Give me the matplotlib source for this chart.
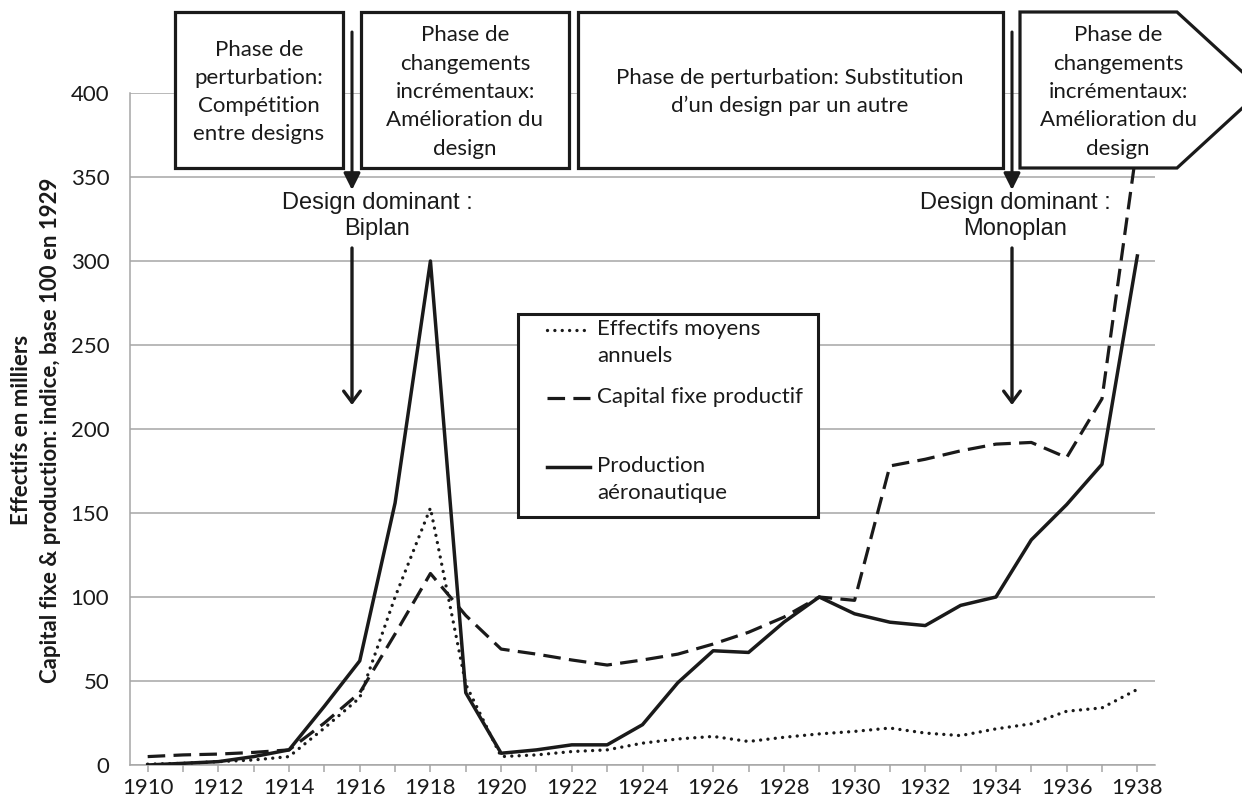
import matplotlib.pyplot as plt
from matplotlib.patches import Rectangle, Polygon, FancyArrowPatch
from matplotlib.lines import Line2D

# ------------------------------------------------------------------------------
# Data (1910 - 1938)
# ------------------------------------------------------------------------------
years = list(range(1910, 1939))

effectifs = [0.5, 1, 2, 3, 5, 22, 40, 100, 153, 48, 5, 6, 8, 9, 13,
             15.5, 17, 14, 16.5, 18.5, 20, 22, 19, 17.5, 21.5, 24.5, 32, 34, 45]

capital = [5, 6, 6.5, 7.5, 9, 25, 43, 78, 114, 89, 69, 66, 62.5, 59.5, 62.5,
           66, 72, 79, 88, 100, 98, 178, 182, 187, 191, 192, 183, 218, 370]

production = [0, 1, 2, 5, 9, 35, 62, 156, 300, 43, 7, 9, 12, 12, 24,
              49, 68, 67, 85, 100, 90, 85, 83, 95, 100, 134, 155, 179, 303]

series_labels = ['Effectifs moyens\nannuels', 'Capital fixe productif',
                 'Production\naéronautique']

phase_texts = ['Phase de\nperturbation:\nCompétition\nentre designs',
               'Phase de\nchangements\nincrémentaux:\nAmélioration du\ndesign',
               'Phase de perturbation: Substitution\nd\u2019un design par un autre',
               'Phase de\nchangements\nincrémentaux:\nAmélioration du\ndesign']

dominant_texts = ['Design dominant :\nBiplan', 'Design dominant :\nMonoplan']

ylabel_text = 'Effectifs en milliers\nCapital fixe & production: indice, base 100 en 1929'

# ------------------------------------------------------------------------------
W, H = 1242, 807
INK = '#1a1a1a'
GRID = '#a6a6a6'
BODY_FONT = 'Lato'

fig = plt.figure(figsize=(W / 100, H / 100), dpi=100)


def _px(x, y):
    # pixel position (top-left origin) -> figure fraction
    return (x / W, 1 - y / H)


ax = fig.add_axes([130 / W, 1 - 765 / H, 1025 / W, 672 / H])

dot_style = (0, (0.01, 2.2))
dash_style = (0, (5.5, 2.6))

ax.plot(years, effectifs, color=INK, lw=2.4, linestyle=dot_style,
        dash_capstyle='round', zorder=3)
ax.plot(years, capital, color=INK, lw=2.3, linestyle=dash_style, zorder=3)
ax.plot(years, production, color=INK, lw=2.5, zorder=4)

ax.set_xlim(1909.5, 1938.5)
ax.set_ylim(0, 400)
ax.set_yticks(range(0, 401, 50))
ax.set_xticks(years)
ax.set_xticklabels([str(y) if y % 2 == 0 else '' for y in years])
ax.yaxis.grid(True, color=GRID, lw=1.1)
ax.set_axisbelow(True)
for side in ['top', 'right']:
    ax.spines[side].set_visible(False)
for side in ['left', 'bottom']:
    ax.spines[side].set_color(GRID)
    ax.spines[side].set_linewidth(1.1)
ax.tick_params(axis='y', length=0, pad=15, labelsize=16, labelcolor=INK)
ax.tick_params(axis='x', length=5, width=1.1, color=GRID, pad=4,
               labelsize=16, labelcolor=INK)
for lab in ax.get_xticklabels() + ax.get_yticklabels():
    lab.set_fontfamily(BODY_FONT)

fig.text(*_px(36, 430), ylabel_text, rotation=90, ha='center', va='center',
         fontsize=16, fontweight='bold', family=BODY_FONT, color=INK,
         linespacing=1.5)

# ------------------------------------------------------------------------------
# Phase boxes along the top
# ------------------------------------------------------------------------------
box_top, box_bot = 12, 168
rect_boxes = [(175, 343), (361, 569), (578, 1003)]
for (x0, x1) in rect_boxes:
    fig.add_artist(Rectangle(_px(x0, box_bot), (x1 - x0) / W,
                             (box_bot - box_top) / H, transform=fig.transFigure,
                             facecolor='white', edgecolor=INK, lw=2.3,
                             joinstyle='miter', zorder=5))
pent = [_px(1020, box_top), _px(1177, box_top), _px(1262, 90),
        _px(1177, box_bot), _px(1020, box_bot)]
fig.add_artist(Polygon(pent, closed=True, transform=fig.transFigure,
                       facecolor='white', edgecolor=INK, lw=2.3,
                       joinstyle='miter', zorder=5))

text_x = [259, 465, 790, 1118]
for tx, txt in zip(text_x, phase_texts):
    fig.text(*_px(tx, 92), txt, ha='center', va='center', fontsize=16,
             family=BODY_FONT, color=INK, linespacing=1.52, zorder=6)

# ------------------------------------------------------------------------------
# Dominant design arrows
# ------------------------------------------------------------------------------
for ax_x, text_cx, txt in zip([352, 1012], [377, 1015], dominant_texts):
    fig.add_artist(FancyArrowPatch(_px(ax_x, 32), _px(ax_x, 190),
                                   transform=fig.transFigure,
                                   arrowstyle='-|>,head_length=10,head_width=5',
                                   shrinkA=0, shrinkB=0, lw=2.2, color=INK,
                                   zorder=6))
    fig.text(*_px(text_cx, 216), txt, ha='center', va='center', fontsize=17,
             family='Liberation Sans', color=INK, linespacing=1.2, zorder=6)
    fig.add_artist(FancyArrowPatch(_px(ax_x, 248), _px(ax_x, 405),
                                   transform=fig.transFigure,
                                   arrowstyle='->,head_length=8,head_width=6',
                                   shrinkA=0, shrinkB=0, lw=2.4, color=INK,
                                   zorder=6))

# ------------------------------------------------------------------------------
# Legend box, drawn by hand so the samples line up with the first text line
# ------------------------------------------------------------------------------
fig.add_artist(Rectangle(_px(518, 517), 300 / W, 203 / H,
                         transform=fig.transFigure, facecolor='white',
                         edgecolor=INK, lw=2.2, zorder=7))
sample_y = [330, 398, 467]
sample_styles = [dict(lw=2.4, linestyle=dot_style, dash_capstyle='round'),
                 dict(lw=2.3, linestyle=dash_style),
                 dict(lw=2.5, linestyle='-')]
for sy, label, st in zip(sample_y, series_labels, sample_styles):
    (x0, y0), (x1, _) = _px(547, sy), _px(590, sy)
    fig.add_artist(Line2D([x0, x1], [y0, y0], transform=fig.transFigure,
                          color=INK, zorder=8, **st))
    fig.text(*_px(597, sy - 11), label, ha='left', va='top', fontsize=16,
             family=BODY_FONT, color=INK, linespacing=1.45, zorder=8)

fig.savefig('out.png', dpi=100, facecolor='white')
